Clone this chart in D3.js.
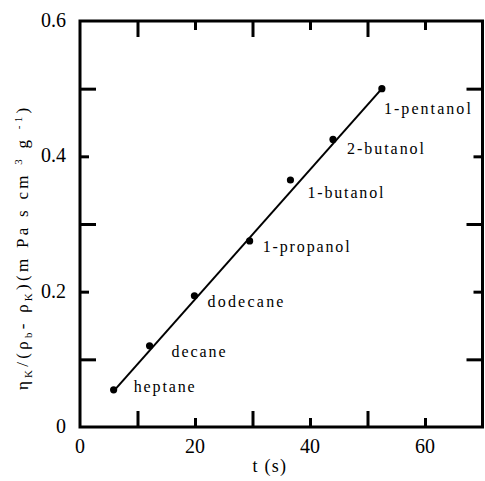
<!DOCTYPE html>
<html>
<head>
<meta charset="utf-8">
<script src="https://cdn.jsdelivr.net/npm/d3@7"></script>
</head>
<body style="margin:0">
<svg id="fig" width="485" height="481"></svg>
<script>
// ---- data ----
const solvents = ["heptane", "decane", "dodecane", "1-propanol", "1-butanol", "2-butanol", "1-pentanol"];
const tValues = [5.85, 12.1, 19.9, 29.5, 36.6, 44.0, 52.5];
const ratioValues = [0.055, 0.120, 0.194, 0.275, 0.365, 0.425, 0.500];
const fitT = [5.85, 52.5];
const fitRatio = [0.053, 0.500];
const xTickLabels = [0, 20, 40, 60];
const yTickLabels = [0, 0.2, 0.4, 0.6];
const xLongTicks = [10, 30, 50];
const xShortTicks = [20, 40, 60];
const yLongTicks = [0.1, 0.3, 0.5];
const yShortTicks = [0.2, 0.4];

// ---- layout ----
const FONT = '"Liberation Serif"';
const labelOffsets = [[20, 2], [22, 11], [13, 11], [13, 11], [17, 18], [14, 15], [2, 25]];
const labelWidths = [61, 54, 76, 87, 76, 77, 87];
const L = 80, R = 482.5, T = 21, B = 427;
const svg = d3.select("#fig");
const x = d3.scaleLinear().domain([0, 70]).range([L, R]);
const y = d3.scaleLinear().domain([0, 0.6]).range([B, T]);
const LONG = 16, SHORT = 9;

function styleAxis(g) {
  g.attr("font-family", null).attr("font-size", null);
  g.select(".domain").remove();
  g.selectAll(".tick line").attr("stroke", "#000").attr("stroke-width", 3);
  g.selectAll(".tick text").remove();
}
function serif(sel) {
  sel.each(function () { this.style.setProperty("font-family", FONT, "important"); });
  return sel;
}
function spread(node, target) {
  const w = node.getComputedTextLength();
  const n = node.textContent.length;
  return Math.max(0, (target - w) / Math.max(1, n - 1));
}
function dxList(str, s, first) {
  return Array.from(str).map((c, i) => (i === 0 ? first : s).toFixed(2)).join(" ");
}

// ticks (inward, all four sides)
svg.append("g").attr("transform", `translate(0,${B})`).call(d3.axisBottom(x).tickValues(xLongTicks).tickSize(-LONG)).call(styleAxis);
svg.append("g").attr("transform", `translate(0,${B})`).call(d3.axisBottom(x).tickValues(xShortTicks).tickSize(-SHORT)).call(styleAxis);
svg.append("g").attr("transform", `translate(0,${T})`).call(d3.axisTop(x).tickValues(xLongTicks).tickSize(-LONG)).call(styleAxis);
svg.append("g").attr("transform", `translate(0,${T})`).call(d3.axisTop(x).tickValues(xShortTicks).tickSize(-SHORT)).call(styleAxis);
svg.append("g").attr("transform", `translate(${L},0)`).call(d3.axisLeft(y).tickValues(yLongTicks).tickSize(-LONG)).call(styleAxis);
svg.append("g").attr("transform", `translate(${L},0)`).call(d3.axisLeft(y).tickValues(yShortTicks).tickSize(-SHORT)).call(styleAxis);
svg.append("g").attr("transform", `translate(${R},0)`).call(d3.axisRight(y).tickValues(yLongTicks).tickSize(-LONG)).call(styleAxis);
svg.append("g").attr("transform", `translate(${R},0)`).call(d3.axisRight(y).tickValues(yShortTicks).tickSize(-SHORT)).call(styleAxis);

// frame
svg.append("rect").attr("x", L).attr("y", T).attr("width", R - L).attr("height", B - T)
  .attr("fill", "none").attr("stroke", "#000").attr("stroke-width", 3);

// fit line
const line = d3.line().x(d => x(d[0])).y(d => y(d[1]));
svg.append("path").datum(d3.zip(fitT, fitRatio)).attr("d", line)
  .attr("fill", "none").attr("stroke", "#000").attr("stroke-width", 2);

// points
const pts = d3.zip(tValues, ratioValues, solvents);
svg.append("g").selectAll("circle").data(pts).join("circle")
  .attr("cx", d => x(d[0])).attr("cy", d => y(d[1])).attr("r", 3.6).attr("fill", "#000");

// tick labels
svg.selectAll("text.xt").data(xTickLabels).join("text").attr("class", "xt")
  .attr("x", d => x(d)).attr("y", B + 26).attr("text-anchor", "middle")
  .attr("font-size", 20).call(serif)
  .text(d => String(d));
svg.selectAll("text.yt").data(yTickLabels).join("text").attr("class", "yt")
  .attr("x", L - 14).attr("y", d => y(d) + 6).attr("text-anchor", "end")
  .attr("font-size", 20).call(serif)
  .text(d => d === 0 ? "0" : d3.format(".1f")(d));

// x title
svg.append("text").attr("x", (L + R) / 2 - 12).attr("y", 472).attr("text-anchor", "middle")
  .attr("font-size", 18).call(serif).text("t (s)")
  .attr("dx", dxList("t (s)", 1.3, 0));

// y title
const yTitleParts = [
  ["η", 17, 0], ["K", 11, 4], ["/(ρ", 17, -4], ["b", 11, 4], ["- ρ", 17, -4], ["K", 11, 4],
  [")(m Pa s cm ", 17, -4], ["3", 11, -6], [" g ", 17, 6], ["-1", 11, -6], [")", 17, 6]
];
const ytl = svg.append("text").attr("transform", `translate(28,249) rotate(-90)`)
  .attr("text-anchor", "middle").attr("font-size", 17).call(serif);
const spans = yTitleParts.map(p => ytl.append("tspan").attr("font-size", p[1]).attr("dy", p[2]).call(serif).text(p[0]));
{
  const s = spread(ytl.node(), 282);
  spans.forEach((sp, i) => sp.attr("dx", dxList(sp.text(), s, i === 0 ? 0 : s)));
}

// point labels
svg.selectAll("text.pl").data(pts).join("text").attr("class", "pl")
  .attr("x", (d, i) => x(d[0]) + labelOffsets[i][0])
  .attr("y", (d, i) => y(d[1]) + labelOffsets[i][1])
  .attr("font-size", 16).call(serif)
  .text(d => d[2])
  .each(function (d, i) {
    const s = spread(this, labelWidths[i]);
    d3.select(this).attr("dx", dxList(d[2], s, 0));
  });
</script>
</body>
</html>
